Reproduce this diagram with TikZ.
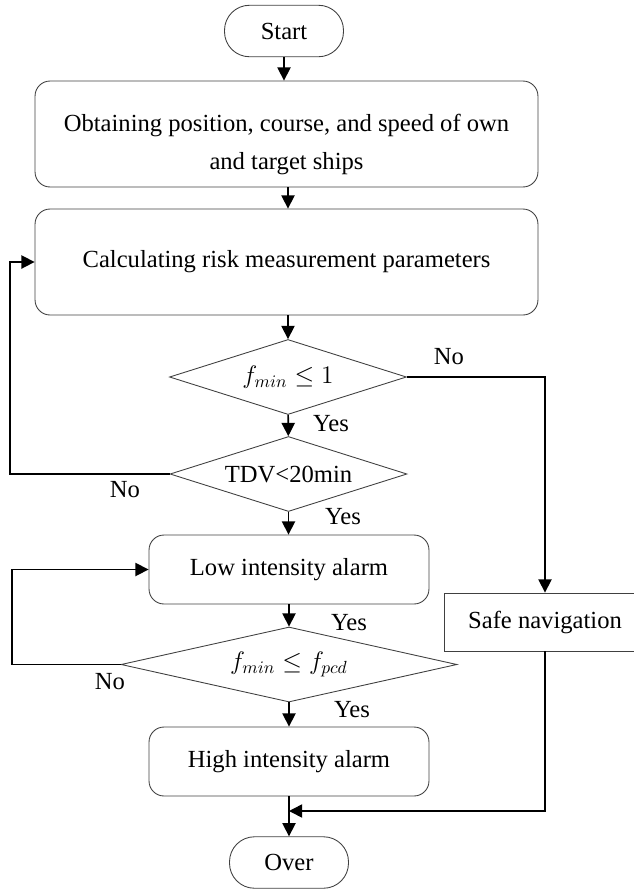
\documentclass[tikz,border=0pt]{standalone}
\usepackage{amsmath,amssymb}
\usepackage{fontspec}
\setmainfont{Liberation Serif}
\usetikzlibrary{arrows.meta,shapes.geometric}

\begin{document}
\begin{tikzpicture}[x=0.02cm,y=-0.02cm,
    font=\fontsize{14}{21.5}\selectfont,
    box/.style={draw=black!75,line width=0.5pt,rounded corners=0.3cm,inner sep=0pt,align=center},
    term/.style={draw=black!75,line width=0.5pt,rounded corners=0.5cm,inner sep=0pt,minimum width=2.38cm,minimum height=1.03cm},
    decide/.style={draw=black!75,line width=0.5pt,diamond,inner sep=0pt,minimum height=1.5cm},
    flow/.style={line width=0.9pt,-{Triangle[width=7.5pt,length=7.5pt]}},
    lbl/.style={inner sep=0pt}]
\useasboundingbox (0,0) rectangle (634,890);
\clip (0,0) rectangle (634,890);

% Main column
\node[term] (start) at (284,31) {Start};
\node[box,minimum width=10.06cm,minimum height=2.12cm] (obtain) at (286.5,134) {\rule{0pt}{22pt}Obtaining position, course, and speed of own\\and target ships};
\node[box,minimum width=10.06cm,minimum height=2.12cm] (calc) at (286.5,262) {Calculating risk measurement parameters};
\node[decide,minimum width=4.74cm,aspect=3.16] (fmin) at (288,377) {$f_{min} \leq 1$};
\node[decide,minimum width=4.74cm,aspect=3.2] (tdv) at (288.5,474) {TDV<20min};
\node[box,minimum width=5.6cm,minimum height=1.38cm] (low) at (289,569.5) {Low intensity alarm};
\node[decide,minimum width=6.72cm,aspect=4.48] (fpcd) at (289,664.5) {$f_{min} \leq f_{pcd}$};
\node[box,minimum width=5.6cm,minimum height=1.38cm] (high) at (289,761.5) {High intensity alarm};
\node[term] (over) at (289,862.5) {Over};

% Side branch
\node[draw=black!75,line width=0.5pt,inner sep=0pt,minimum width=4.04cm,minimum height=1.16cm] (safe) at (545,622) {Safe navigation};
\coordinate (merge) at (289,811);

% Connectors
\draw[flow] (start) -- (start |- obtain.north);
\draw[flow] (obtain.south -| fmin) -- (calc.north -| fmin);
\draw[flow] (calc.south -| fmin) -- (fmin.north);
\draw[flow] (fmin) -- (tdv);
\draw[flow] (tdv) -- (low.north -| tdv);
\draw[flow] (low) -- (fpcd);
\draw[flow] (fpcd) -- (high);
\draw[flow] (high) -- (over);
\draw[flow] (fmin.east) -| (safe.north);
\draw[flow] (safe.south) |- (merge);
\draw[flow] (tdv.west) -- (10,474) |- (calc.west);
\draw[flow] (fpcd.west) -- (12,664.5) |- (low.west);

% Labels
\node[lbl] (no1) at (449,357) {No};
\node[lbl] (yes1) at (331,424) {Yes};
\node[lbl] (no2) at (125,490) {No};
\node[lbl] (yes2) at (343,517) {Yes};
\node[lbl] (yes3) at (349,623) {Yes};
\node[lbl] (no3) at (110,682) {No};
\node[lbl] (yes4) at (352,710) {Yes};
\end{tikzpicture}
\end{document}
